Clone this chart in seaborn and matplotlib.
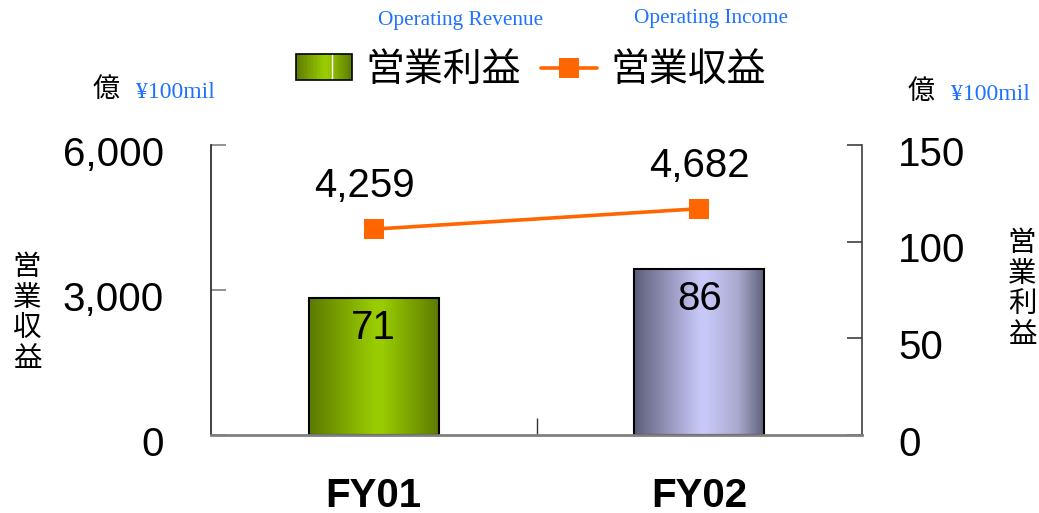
import numpy as np
import pandas as pd
import matplotlib
matplotlib.use("Agg")
import matplotlib.pyplot as plt
import seaborn as sns
from matplotlib.colors import LinearSegmentedColormap
from matplotlib.legend_handler import HandlerBase
from matplotlib.patches import Rectangle
from matplotlib.lines import Line2D
from matplotlib.ticker import FuncFormatter
from matplotlib.transforms import ScaledTranslation

# ---- data ----
years = ["FY01", "FY02"]
income = [71, 86]          # 営業利益 (bars, right axis)
revenue = [4259, 4682]     # 営業収益 (line, left axis)
left_ticks = [0, 3000, 6000]
right_ticks = [0, 50, 100, 150]

sns.set_theme(style="white")
plt.rcParams["font.family"] = ["Liberation Sans", "Noto Sans CJK JP", "DejaVu Sans"]
plt.rcParams["text.color"] = "black"
plt.rcParams["xtick.color"] = "black"
plt.rcParams["ytick.color"] = "black"
plt.rcParams["axes.labelcolor"] = "black"
JP = ["Noto Sans CJK JP", "DejaVu Sans"]
SERIF = ["Liberation Serif", "DejaVu Serif"]
BLUE = "#1F72FF"
ORANGE = "#FF6600"

df = pd.DataFrame({"year": years, "income": income, "revenue": revenue})
df["pos"] = np.arange(len(df))

green_cm = LinearSegmentedColormap.from_list(
    "g", [(0, "#5C7A00"), (0.5, "#99CC00"), (0.56, "#99CC00"), (1, "#5C7A00")])
lav_cm = LinearSegmentedColormap.from_list(
    "l", [(0, "#5E5E7A"), (0.5, "#C8C8F8"), (0.56, "#C8C8F8"), (0.8, "#A8A8CC"), (1, "#5E5E7A")])
cmaps = [green_cm, lav_cm]

W, H = 1039, 513
fig = plt.figure(figsize=(W / 100, H / 100), dpi=100)
ax1 = fig.add_axes([211 / W, 1 - 435 / H, (862 - 211) / W, (435 - 145) / H])
ax2 = ax1.twinx()
ax1.set_zorder(ax2.get_zorder() + 1)
ax1.patch.set_visible(False)

# bars (operating income) on right axis
sns.barplot(data=df, x="pos", y="income", ax=ax2, width=0.4, color="#99CC00",
            edgecolor="black", linewidth=1.5, native_scale=True)
for patch, cm in zip(list(ax2.patches), cmaps):
    bb = patch.get_bbox()
    patch.set_facecolor("none")
    patch.set_zorder(3)
    grad = np.linspace(0, 1, 256).reshape(1, -1)
    im = ax2.imshow(grad, extent=[bb.x0, bb.x1, bb.y0, bb.y1], aspect="auto",
                    cmap=cm, zorder=2, interpolation="bilinear")
    im.set_clip_path(patch)

for i, v in enumerate(income):
    ax2.annotate(f"{v}", (df["pos"][i], v), xytext=(0, -8), textcoords="offset points",
                 ha="center", va="top", fontsize=29, color="black", zorder=5)

# line (operating revenue) on left axis
sns.lineplot(data=df, x="pos", y="revenue", ax=ax1, color=ORANGE, lw=2.6,
             marker="s", markersize=14, markeredgewidth=0)
label_dx = [-7, 0]
for i, v in enumerate(revenue):
    ax1.annotate(f"{v:,}", (df["pos"][i], v), xytext=(label_dx[i], 31),
                 textcoords="offset points",
                 ha="center", va="center", fontsize=29, color="black")

# axes
ax1.set_xlim(-0.5, 1.5)
ax2.set_xlim(-0.5, 1.5)
ax1.set_ylim(0, 6000)
ax2.set_ylim(0, 150)
ax1.set_yticks(left_ticks)
ax2.set_yticks(right_ticks)
ax1.yaxis.set_major_formatter(FuncFormatter(lambda v, _: f"{v:,.0f}"))
ax1.set_xticks(df["pos"], years)
ax1.set_xticks([0.5], minor=True)
ax1.set_xlabel("")
ax1.set_ylabel("")
ax2.set_ylabel("")
ax2.set_xlabel("")

ax1.tick_params(axis="y", direction="in", length=11, width=1.2, color="#808080",
                labelcolor="black", pad=34, labelsize=29, left=True, right=False)
ax2.tick_params(axis="y", direction="in", length=11, width=1.2, color="#404040",
                labelcolor="black", pad=26, labelsize=29, right=True, left=False)
ax1.tick_params(axis="x", which="major", length=0, pad=30, labelsize=29,
                labelcolor="black")
ax1.tick_params(axis="x", which="minor", direction="in", length=12, width=1, color="#333333",
                bottom=True)
for lbl in ax1.get_xticklabels():
    lbl.set_fontweight("bold")
    lbl.set_family(["Liberation Sans Narrow", "Liberation Sans"])

shift = ScaledTranslation(0, -4 / 72, fig.dpi_scale_trans)
for lbl in ax1.get_yticklabels() + ax2.get_yticklabels():
    lbl.set_transform(lbl.get_transform() + shift)

for s in ["top", "right"]:
    ax1.spines[s].set_visible(False)
for s in ["top", "left", "bottom"]:
    ax2.spines[s].set_visible(False)
ax1.spines["left"].set_color("#202020")
ax1.spines["left"].set_linewidth(1.2)
ax1.spines["bottom"].set_color("#808080")
ax1.spines["bottom"].set_linewidth(2)
ax2.spines["right"].set_color("#404040")
ax2.spines["right"].set_linewidth(1.2)
ax1.grid(False)
ax2.grid(False)


# legend
class GradHandler(HandlerBase):
    def __init__(self, cmap):
        super().__init__()
        self.cmap = cmap

    def create_artists(self, legend, orig_handle, xdescent, ydescent, width, height,
                       fontsize, trans):
        arts = []
        n = 40
        x0, y0 = -xdescent, -ydescent
        for k in range(n):
            arts.append(Rectangle((x0 + k * width / n, y0), width / n * 1.05, height,
                                  facecolor=self.cmap((k + 0.5) / n), edgecolor="none",
                                  transform=trans))
        arts.append(Line2D([x0 + 0.65 * width] * 2, [y0, y0 + height], color="white",
                           lw=1, transform=trans))
        arts.append(Rectangle((x0, y0), width, height, facecolor="none",
                              edgecolor="black", lw=1.2, transform=trans))
        return arts


bar_handle = Rectangle((0, 0), 1, 1)
line_handle = Line2D([], [], color=ORANGE, lw=2.6, marker="s", markersize=14,
                     markeredgewidth=0)
leg = fig.legend([bar_handle, line_handle], ["営業利益", "営業収益"],
                 handler_map={bar_handle: GradHandler(green_cm)},
                 loc="center", bbox_to_anchor=(531 / W, 1 - 70 / H), ncol=2,
                 frameon=False, prop={"family": JP, "size": 28},
                 handlelength=1.45, handleheight=0.65, handletextpad=0.35,
                 columnspacing=0.5, borderpad=0)

# annotations / units
def ftxt(x, y, s, **kw):
    fig.text(x / W, 1 - y / H, s, **kw)

ftxt(461, 21, "Operating Revenue", ha="center", va="center", color=BLUE,
     family=SERIF, fontsize=15.3)
ftxt(711, 18, "Operating Income", ha="center", va="center", color=BLUE,
     family=SERIF, fontsize=15.3)
ftxt(106, 89, "億", ha="center", va="center", family=JP, fontsize=19.5)
ftxt(175, 93, "¥100mil", ha="center", va="center", color=BLUE, family=SERIF, fontsize=17)
ftxt(921, 91, "億", ha="center", va="center", family=JP, fontsize=19.5)
ftxt(990, 95, "¥100mil", ha="center", va="center", color=BLUE, family=SERIF, fontsize=17)
ftxt(27, 313, "営\n業\n収\n益", ha="center", va="center", family=JP, fontsize=20.5,
     linespacing=1.02)
ftxt(1022, 289, "営\n業\n利\n益", ha="center", va="center", family=JP, fontsize=20.5,
     linespacing=1.02)

fig.savefig("out.png", dpi=100)
